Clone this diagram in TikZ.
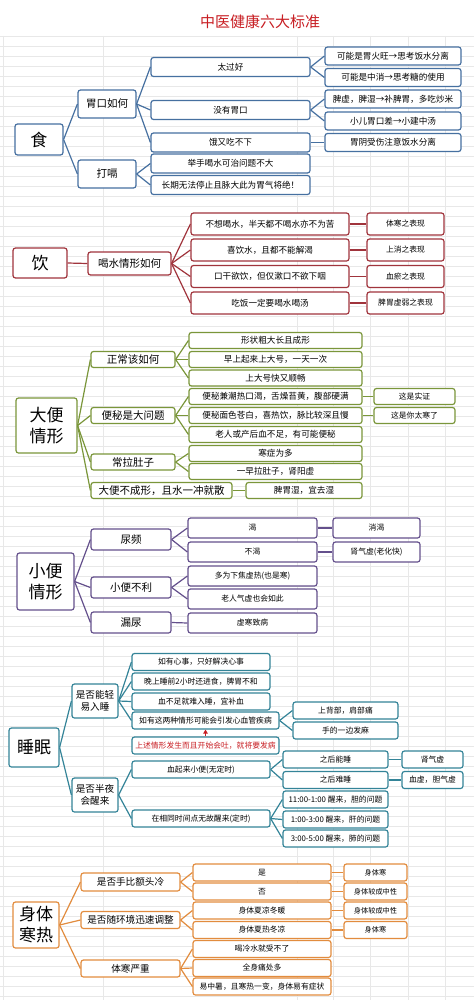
\documentclass[tikz,border=0pt]{standalone}
\usepackage{fontspec}
\setmainfont{Noto Sans CJK SC}
\usetikzlibrary{arrows.meta}
\definecolor{mmblue}{RGB}{70,112,160}
\definecolor{mmred}{RGB}{160,52,60}
\definecolor{mmgreen}{RGB}{122,150,58}
\definecolor{mmpurple}{RGB}{100,80,140}
\definecolor{mmteal}{RGB}{52,132,152}
\definecolor{mmorange}{RGB}{226,140,62}
\definecolor{mmtitle}{RGB}{200,30,35}

\begin{document}
\begin{tikzpicture}[x=1pt, y=-1pt,
    box/.style={draw, rounded corners=2.5pt, line width=1.2pt, fill=white,
                inner sep=1pt, align=center},
    sz/.style 2 args={minimum width=#1pt, minimum height=#2pt},
    big/.style={font=\fontsize{17}{21}\selectfont},
    lv2/.style={font=\fontsize{10.5}{13}\selectfont},
    lv2s/.style={font=\fontsize{9.6}{12.5}\selectfont},
    sml/.style={font=\fontsize{8.6}{10}\selectfont},
    xs/.style={font=\fontsize{7.8}{9}\selectfont},
    xxs/.style={font=\fontsize{7.2}{9}\selectfont},
    ln/.style={line width=1.2pt},
    gridline/.style={gray!18, line width=0.4pt}
  ]
  \useasboundingbox[fill=white] (0,0) rectangle (474,1006);
  % spreadsheet grid behind
  \foreach \y in {36,46,...,1000} \draw[gridline] (0,\y) -- (474,\y);
  \foreach \x in {3,103,297,333,370,408,445} \draw[gridline] (\x,36) -- (\x,1000);

  \node[font=\fontsize{15}{18}\selectfont, text=mmtitle] (title) at (260,22)
    {中医健康六大标准};

  % 食
  \begin{scope}[every node/.style={box, draw=mmblue}]
    \node[big, sz={48}{31}] (shi) at (39,139.5) {食};
    \node[lv2, sz={58}{28}] (weikou) at (107,104) {胃口如何};
    \node[lv2, sz={58}{28}] (dage) at (107,174) {打嗝};
    \node[sml, sz={159}{19}] (taiguo) at (230.5,67) {太过好};
    \node[sml, sz={159}{19}] (meiyou) at (230.5,110) {没有胃口};
    \node[sml, sz={159}{19}] (eyou) at (230.5,142.5) {饿又吃不下};
    \node[sml, sz={159}{19}] (jushou) at (230.5,163.5) {举手喝水可治问题不大};
    \node[sml, sz={159}{19}] (changqi) at (230.5,185) {长期无法停止且脉大此为胃气将绝！};
    \node[sml, sz={136}{18}] (huowang) at (393,56) {可能是胃火旺→思考饭水分离};
    \node[sml, sz={136}{18}] (zhongxiao) at (393,77.5) {可能是中消→思考糖的使用};
    \node[sml, sz={136}{18}] (pixu) at (393,99) {脾虚，脾湿→补脾胃，多吃炒米};
    \node[sml, sz={136}{18}] (xiaoer) at (393,121) {小儿胃口差→小建中汤};
    \node[sml, sz={136}{18}] (weiyin) at (393,142.5) {胃阴受伤注意饭水分离};
  \end{scope}
  \foreach \a/\b in {shi/weikou, shi/dage, weikou/taiguo, weikou/meiyou,
      weikou/eyou, dage/jushou, dage/changqi, taiguo/huowang,
      taiguo/zhongxiao, meiyou/pixu, meiyou/xiaoer, eyou/weiyin}
    \draw[ln, mmblue] (\a.east) -- (\b.west);

  % 饮
  \begin{scope}[every node/.style={box, draw=mmred}]
    \node[big, sz={54}{30}] (yin) at (40,263) {饮};
    \node[lv2, sz={83}{23}] (heshui) at (129.5,263.5) {喝水情形如何};
    \node[sml, sz={158}{22}] (buxiang) at (270,224) {不想喝水，半天都不喝水亦不为苦};
    \node[sml, sz={158}{22}] (xiyin) at (270,250) {喜饮水，且都不能解渴};
    \node[sml, sz={158}{22}] (kougan) at (270,276.5) {口干欲饮，但仅漱口不欲下咽};
    \node[sml, sz={158}{22}] (chifan) at (270,303) {吃饭一定要喝水喝汤};
    \node[xs, sz={77}{22}] (tihan) at (405.5,224) {体寒之表现};
    \node[xs, sz={77}{22}] (shangxiao) at (405.5,250) {上消之表现};
    \node[xs, sz={77}{22}] (xueyu) at (405.5,276.5) {血瘀之表现};
    \node[xs, sz={77}{22}] (piwei) at (405.5,303) {脾胃虚弱之表现};
  \end{scope}
  \foreach \a/\b in {yin/heshui, heshui/buxiang, heshui/xiyin, heshui/kougan,
      heshui/chifan, buxiang/tihan, xiyin/shangxiao, kougan/xueyu, chifan/piwei}
    \draw[ln, mmred] (\a.east) -- (\b.west);

  % 大便情形
  \begin{scope}[every node/.style={box, draw=mmgreen}]
    \node[big, sz={61}{55}] (dabian) at (46.5,425.5) {大便\\情形};
    \node[lv2, sz={84}{16}] (zhengchang) at (133,359.5) {正常该如何};
    \node[lv2, sz={84}{16}] (bianmi) at (133,415.5) {便秘是大问题};
    \node[lv2, sz={84}{16}] (lafu) at (133,462) {常拉肚子};
    \node[lv2, sz={141}{16}] (buchengxing) at (161.5,490.5) {大便不成形，且水一冲就散};
    \node[sml, sz={173}{16}] (xingzhuang) at (275.5,340.5) {形状粗大长且成形};
    \node[sml, sz={173}{16}] (zaoshang) at (275.5,359.5) {早上起来上大号，一天一次};
    \node[sml, sz={173}{16}] (shunchang) at (275.5,378) {上大号快又顺畅};
    \node[sml, sz={173}{16}] (chaore) at (275.5,396.5) {便秘兼潮热口渴，舌燥苔黄，腹部硬满};
    \node[sml, sz={173}{16}] (miance) at (275.5,415.5) {便秘面色苍白，喜热饮，脉比较深且慢};
    \node[sml, sz={173}{16}] (laoren) at (275.5,434.5) {老人或产后血不足，有可能便秘};
    \node[sml, sz={173}{16}] (hanzheng) at (275.5,453.5) {寒症为多};
    \node[sml, sz={173}{16}] (yizao) at (275.5,471.5) {一早拉肚子，肾阳虚};
    \node[sml, sz={116}{16}] (pishi) at (304,490.5) {脾胃湿，宜去湿};
    \node[xs, sz={81}{16}] (shizheng) at (414.5,396.5) {这是实证};
    \node[xs, sz={81}{16}] (taihan) at (414.5,415.5) {这是你太寒了};
  \end{scope}
  \foreach \a/\b in {dabian/zhengchang, dabian/bianmi, dabian/lafu,
      dabian/buchengxing, zhengchang/xingzhuang, zhengchang/zaoshang,
      zhengchang/shunchang, bianmi/chaore, bianmi/miance, bianmi/laoren,
      lafu/hanzheng, lafu/yizao, buchengxing/pishi, chaore/shizheng,
      miance/taihan}
    \draw[ln, mmgreen] (\a.east) -- (\b.west);

  % 小便情形
  \begin{scope}[every node/.style={box, draw=mmpurple}]
    \node[big, sz={57}{57}] (xiaobian) at (45.5,581.5) {小便\\情形};
    \node[lv2, sz={80}{21}] (niaopin) at (131,539.5) {尿频};
    \node[lv2, sz={80}{21}] (buli) at (131,587.5) {小便不利};
    \node[lv2, sz={80}{21}] (louniao) at (131,622.5) {漏尿};
    \node[xs, sz={129}{20}] (ke) at (252.5,528) {渴};
    \node[xs, sz={129}{20}] (buke) at (252.5,552) {不渴};
    \node[xs, sz={129}{20}] (xiajiao) at (252.5,576) {多为下焦虚热(也是寒)};
    \node[xs, sz={129}{20}] (qixu) at (252.5,599) {老人气虚也会如此};
    \node[xs, sz={129}{20}] (xuhan) at (252.5,623) {虚寒致病};
    \node[xs, sz={87}{20}] (xiaoke) at (376.5,528) {消渴};
    \node[xs, sz={87}{20}] (shenqi) at (376.5,552) {肾气虚(老化快)};
  \end{scope}
  \foreach \a/\b in {xiaobian/niaopin, xiaobian/buli, xiaobian/louniao,
      niaopin/ke, niaopin/buke, buli/xiajiao, buli/qixu, louniao/xuhan,
      ke/xiaoke, buke/shenqi}
    \draw[ln, mmpurple] (\a.east) -- (\b.west);

  % 睡眠
  \begin{scope}[every node/.style={box, draw=mmteal}]
    \node[big, sz={50}{39}] (shuimian) at (34,747.5) {睡眠};
    \node[lv2s, sz={46}{34}] (rushui) at (95,701) {是否能轻\\易入睡};
    \node[lv2s, sz={46}{34}] (banye) at (95,795) {是否半夜\\会醒来};
    \node[xs, sz={138}{17}] (xinshi) at (201,662) {如有心事，只好解决心事};
    \node[xs, sz={138}{17}] (wanshang) at (201,681.5) {晚上睡前2小时还进食，脾胃不和};
    \node[xs, sz={138}{17}] (xuebuzu) at (201,701.5) {血不足就难入睡，宜补血};
    \node[xs, sz={147}{17}] (liangzhong) at (205.5,720.5) {如有这两种情形可能会引发心血管疾病};
    \node[xs, sz={147}{17}, text=mmtitle] (warn) at (205.5,745.5) {上述情形发生而且开始会吐，就将要发病};
    \node[xs, sz={138}{17}] (qilai) at (201,769.5) {血起来小便(无定时)};
    \node[xs, sz={138}{17}] (dingshi) at (201,818.5) {在相同时间点无故醒来(定时)};
    \node[xs, sz={105}{17}] (beibu) at (345.5,710.5) {上背部，肩部痛};
    \node[xs, sz={105}{17}] (fama) at (345.5,730.5) {手的一边发麻};
    \node[xs, sz={105}{17}] (nengshui) at (335.5,759.5) {之后能睡};
    \node[xs, sz={105}{17}] (nanshui) at (335.5,780) {之后难睡};
    \node[xs, sz={61}{17}] (shenqixu) at (432.5,759.5) {肾气虚};
    \node[xs, sz={61}{17}] (xuexu) at (432.5,780) {血虚，胆气虚};
    \node[xs, sz={105}{17}] (dan) at (335.5,799.5) {11:00-1:00 醒来，胆的问题};
    \node[xs, sz={105}{17}] (gan) at (335.5,819.5) {1:00-3:00 醒来，肝的问题};
    \node[xs, sz={105}{17}] (fei) at (335.5,838.5) {3:00-5:00 醒来，肺的问题};
  \end{scope}
  \foreach \a/\b in {shuimian/rushui, shuimian/banye, rushui/xinshi,
      rushui/wanshang, rushui/xuebuzu, rushui/liangzhong, liangzhong/beibu,
      liangzhong/fama, banye/qilai, banye/dingshi, qilai/nengshui,
      qilai/nanshui, nengshui/shenqixu, nanshui/xuexu, dingshi/dan,
      dingshi/gan, dingshi/fei}
    \draw[ln, mmteal] (\a.east) -- (\b.west);
  \draw[-{Triangle[length=4pt, width=4.5pt]}, line width=1.5pt, mmtitle]
    (warn.north) -- (liangzhong.south);

  % 身体寒热
  \begin{scope}[every node/.style={box, draw=mmorange}]
    \node[big, sz={46}{46}] (shenti) at (36,925) {身体\\寒热};
    \node[lv2s, sz={99}{18}] (shoubi) at (130.5,882) {是否手比额头冷};
    \node[lv2s, sz={99}{17}] (huanjing) at (130.5,920) {是否随环境迅速调整};
    \node[lv2s, sz={99}{17}] (yanzhong) at (130.5,968.5) {体寒严重};
    \node[xs, sz={138}{17}] (shi1) at (262,872.5) {是};
    \node[xs, sz={138}{17}] (fou) at (262,891.5) {否};
    \node[xs, sz={138}{17}] (xialiang) at (262,910.5) {身体夏凉冬暖};
    \node[xs, sz={138}{17}] (xiare) at (262,930) {身体夏热冬凉};
    \node[xs, sz={138}{17}] (lengshui) at (262,949) {喝冷水就受不了};
    \node[xs, sz={138}{17}] (tongchu) at (262,968) {全身痛处多};
    \node[xs, sz={138}{17}] (zhongshu) at (262,986.5) {易中暑，且寒热一变，身体易有症状};
    \node[xxs, sz={63}{17}] (hanA) at (375.5,872.5) {身体寒};
    \node[xxs, sz={63}{17}] (zhongA) at (375.5,891.5) {身体较成中性};
    \node[xxs, sz={63}{17}] (zhongB) at (375.5,910.5) {身体较成中性};
    \node[xxs, sz={63}{17}] (hanB) at (375.5,930) {身体寒};
  \end{scope}
  \foreach \a/\b in {shenti/shoubi, shenti/huanjing, shenti/yanzhong,
      shoubi/shi1, shoubi/fou, huanjing/xialiang, huanjing/xiare,
      yanzhong/lengshui, yanzhong/tongchu, yanzhong/zhongshu,
      shi1/hanA, fou/zhongA, xialiang/zhongB, xiare/hanB}
    \draw[ln, mmorange] (\a.east) -- (\b.west);
\end{tikzpicture}
\end{document}
